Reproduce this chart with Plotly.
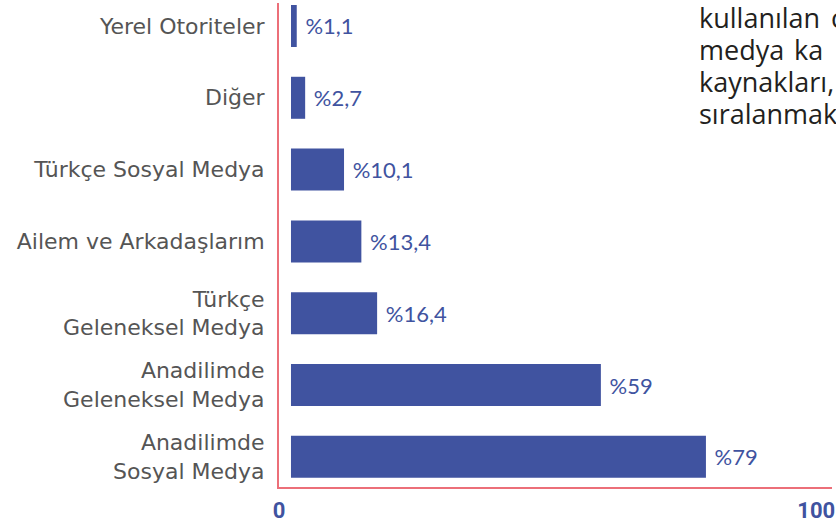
import plotly.graph_objects as go

categories = [
    "Anadilimde<br>Sosyal Medya",
    "Anadilimde<br>Geleneksel Medya",
    "Türkçe<br>Geleneksel Medya",
    "Ailem ve Arkadaşlarım",
    "Türkçe Sosyal Medya",
    "Diğer",
    "Yerel Otoriteler",
]
values = [79, 59, 16.4, 13.4, 10.1, 2.7, 1.1]
value_labels = ["%79", "%59", "%16,4", "%13,4", "%10,1", "%2,7", "%1,1"]
tick_values = [-2.28, 100]
tick_labels = ["0", "100"]

side_text = [
    ("kullanılan", 697, 17), ("c", 829, 17),
    ("medya", 697, 50), ("ka", 792, 50),
    ("kaynakları,", 697, 82),
    ("sıralanmakt", 697, 114),
]

BLUE = "#4053A0"
RED = "#EC6F79"
W, H = 836, 523
L, R, T, B = 279, 4, 3, 36

fig = go.Figure()
fig.add_trace(go.Bar(
    y=list(range(len(categories))),
    x=values,
    orientation="h",
    width=0.585,
    marker=dict(color=BLUE, line=dict(width=0)),
    text=value_labels,
    texttemplate=" %{text}",
    textposition="outside",
    textfont=dict(family="Lato", size=22, color=BLUE),
    cliponaxis=False,
    hoverinfo="skip",
))

pw = W - L - R
ph = H - T - B
for txt, px, py in side_text:
    fig.add_annotation(
        text=txt, xref="paper", yref="paper",
        x=(px - L) / pw, y=1 - (py - T) / ph,
        xanchor="left", yanchor="middle", showarrow=False,
        font=dict(family="Open Sans", size=27, color="#231F20"),
    )

fig.update_layout(
    width=W, height=H,
    margin=dict(l=L, r=R, t=T, b=B, autoexpand=False),
    paper_bgcolor="white", plot_bgcolor="white",
    showlegend=False,
)
fig.update_xaxes(
    range=[-2.28, 103.0],
    tickvals=tick_values, ticktext=tick_labels,
    tickfont=dict(family="Roboto", size=22, color=BLUE, weight="bold"),
    showgrid=False, zeroline=False, automargin=False,
    showline=True, linecolor=RED, linewidth=2,
    ticks="outside", ticklen=3, tickcolor="rgba(0,0,0,0)",
)
fig.update_yaxes(
    range=[-0.42, 6.32],
    tickvals=list(range(len(categories))), ticktext=categories,
    tickfont=dict(family="DejaVu Sans", size=22, color="#555555"),
    showgrid=False, zeroline=False, automargin=False,
    showline=True, linecolor=RED, linewidth=2,
    ticks="outside", ticklen=8, tickcolor="rgba(0,0,0,0)",
)

fig.write_html(
    "out.html",
    config={"displayModeBar": False},
    post_script="document.body.style.margin='0';document.body.style.overflow='hidden';",
)
